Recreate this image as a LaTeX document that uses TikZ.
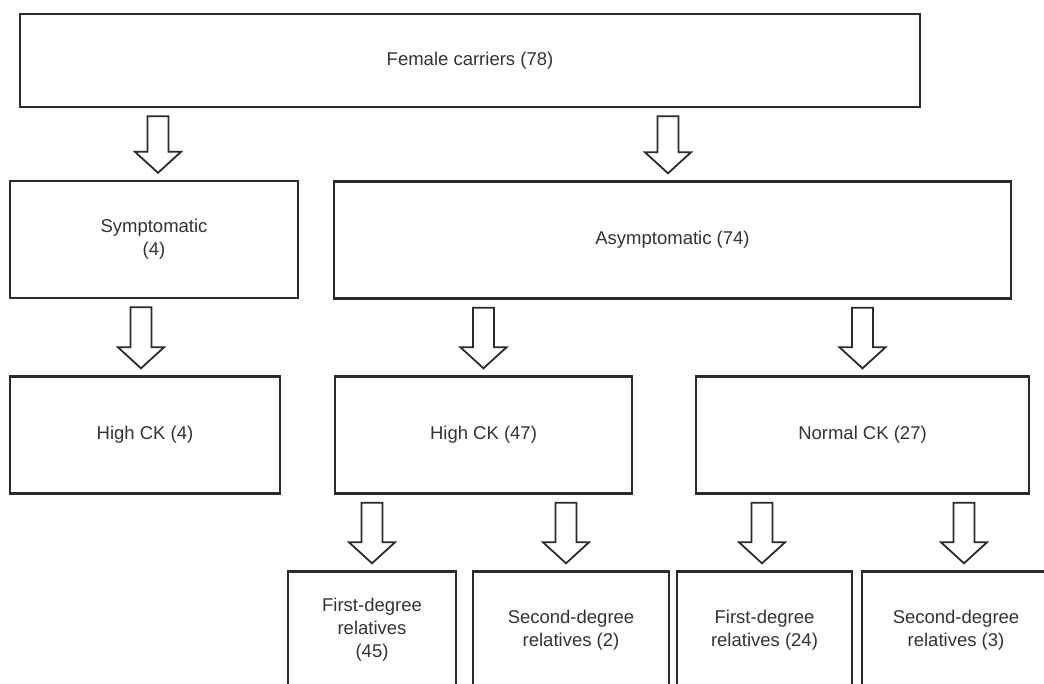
\documentclass[tikz,border=0pt]{standalone}
\usepackage{fontspec}
\setmainfont{Liberation Sans}
\usetikzlibrary{calc,positioning}
\definecolor{boxline}{HTML}{2B2B2B}
\definecolor{boxtext}{HTML}{333333}
% hollow block arrow from a parent box down to a child box
\newcommand{\hollowarrow}[3][0pt]{%
  \draw[blockarrow] let \p1=($(#2.north|-#3.south)+(#1,-8pt)$), \p2=($(#2.north)+(#1,7pt)$) in
    (\x1-10.5pt,\y1) -- (\x1+10.5pt,\y1) -- (\x1+10.5pt,\y2+21pt) -- (\x1+23pt,\y2+21pt)
    -- (\x1,\y2) -- (\x1-23pt,\y2+21pt) -- (\x1-10.5pt,\y2+21pt) -- cycle;}

\begin{document}
\begin{tikzpicture}[x=1pt,y=-1pt,
    groupbox/.style={draw=boxline,line width=2.4pt,fill=white,text=boxtext,
      font=\fontsize{18.5}{23}\selectfont,align=center,inner sep=0pt,minimum height=117pt},
    blockarrow/.style={draw=boxline,line width=1.8pt,fill=white,line join=miter}
  ]
  \path[use as bounding box,fill=white] (0,0) rectangle (1044,683);
  \clip (0,0) rectangle (1044,683);
  % all carriers
  \node[groupbox,minimum width=900pt,minimum height=93pt] (carriers) at (470,60.5) {Female carriers (78)};
  % by symptoms
  \node[groupbox,minimum width=288pt] (sym) at (154,239.5) {Symptomatic\\(4)};
  \node[groupbox,minimum width=677pt] (asym) at (672.5,240) {Asymptomatic (74)};
  % by CK level
  \node[groupbox,minimum width=270pt] (symhigh) at (145,435) {High CK (4)};
  \node[groupbox,minimum width=297pt] (asymhigh) at (483.5,435) {High CK (47)};
  \node[groupbox,minimum width=333pt] (asymnormal) at (862.5,435) {Normal CK (27)};
  % by relationship
  \node[groupbox,minimum width=168pt] (highfirst) at (372,630) {First-degree\\relatives\\(45)};
  \node[groupbox,minimum width=196pt] (highsecond) at (571,630) {Second-degree\\relatives (2)};
  \node[groupbox,minimum width=175pt] (normalfirst) at (764.5,630) {First-degree\\relatives (24)};
  \node[groupbox,minimum width=188pt] (normalsecond) at (956,630) {Second-degree\\relatives (3)};
  % arrows
  \hollowarrow[4pt]{sym}{carriers}
  \hollowarrow[-4.5pt]{asym}{carriers}
  \hollowarrow[-4pt]{symhigh}{sym}
  \hollowarrow{asymhigh}{asym}
  \hollowarrow{asymnormal}{asym}
  \hollowarrow{highfirst}{asymhigh}
  \hollowarrow[-5pt]{highsecond}{asymhigh}
  \hollowarrow[-2.5pt]{normalfirst}{asymnormal}
  \hollowarrow[8pt]{normalsecond}{asymnormal}
\end{tikzpicture}
\end{document}
